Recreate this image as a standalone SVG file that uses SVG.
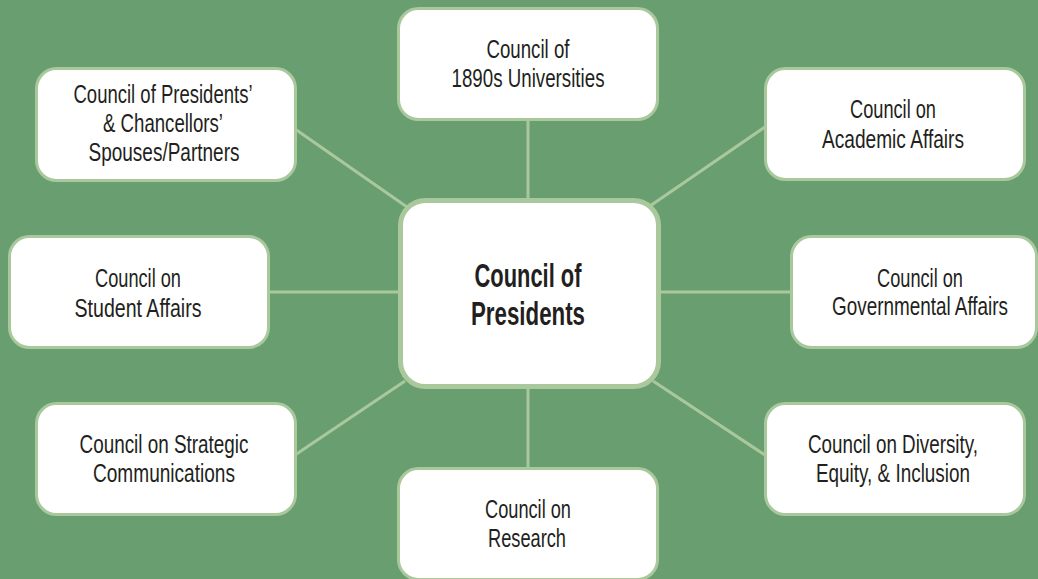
<svg xmlns="http://www.w3.org/2000/svg" width="1038" height="579" viewBox="0 0 1038 579">
<style>
.bg{fill:#699e71}
.box{fill:#ffffff;stroke:#a9c99c;stroke-width:3}
.main{fill:#ffffff;stroke:#a9c99c;stroke-width:5}
.t{font-family:"Liberation Sans",Arial,sans-serif;font-size:26px;fill:#231f20;text-anchor:middle}
.b{font-family:"Liberation Sans",Arial,sans-serif;font-size:34px;font-weight:bold;fill:#231f20;text-anchor:middle}
.c line{stroke:#a9c99c;stroke-width:3}
</style>
<rect class="bg" x="0" y="0" width="1038" height="579"/>
<g id="connectors" class="c">
<line x1="528" y1="118" x2="528" y2="200"/>
<line x1="528" y1="387" x2="528" y2="469"/>
<line x1="267" y1="292" x2="400" y2="292"/>
<line x1="659" y1="292" x2="792" y2="292"/>
<line x1="295" y1="129" x2="407" y2="207"/>
<line x1="765" y1="127" x2="650" y2="206"/>
<line x1="295" y1="455" x2="405" y2="381"/>
<line x1="765" y1="455" x2="653" y2="381"/>
</g>
<g id="node-center">
<rect class="main" x="400.5" y="200.5" width="258" height="186" rx="25"/>
<text class="b" x="528" y="287" textLength="107" lengthAdjust="spacingAndGlyphs">Council of</text>
<text class="b" x="528" y="325" textLength="114" lengthAdjust="spacingAndGlyphs">Presidents</text>
</g>
<g id="node-1890s">
<rect class="box" x="398.5" y="8.5" width="259" height="111" rx="20"/>
<text class="t" x="528" y="58" textLength="83" lengthAdjust="spacingAndGlyphs">Council of</text>
<text class="t" x="528" y="87" textLength="153" lengthAdjust="spacingAndGlyphs">1890s Universities</text>
</g>
<g id="node-spouses">
<rect class="box" x="36.5" y="68.5" width="259" height="112" rx="20"/>
<text class="t" x="163" y="103" textLength="179" lengthAdjust="spacingAndGlyphs">Council of Presidents’</text>
<text class="t" x="163" y="132" textLength="120" lengthAdjust="spacingAndGlyphs">&amp; Chancellors’</text>
<text class="t" x="164" y="161" textLength="151" lengthAdjust="spacingAndGlyphs">Spouses/Partners</text>
</g>
<g id="node-academic">
<rect class="box" x="765.5" y="68.5" width="259" height="111" rx="20"/>
<text class="t" x="893" y="118" textLength="86" lengthAdjust="spacingAndGlyphs">Council on</text>
<text class="t" x="893" y="148" textLength="142" lengthAdjust="spacingAndGlyphs">Academic Affairs</text>
</g>
<g id="node-student">
<rect class="box" x="9.5" y="236.5" width="259" height="111" rx="20"/>
<text class="t" x="138" y="287" textLength="86" lengthAdjust="spacingAndGlyphs">Council on</text>
<text class="t" x="138" y="317" textLength="127" lengthAdjust="spacingAndGlyphs">Student Affairs</text>
</g>
<g id="node-governmental">
<rect class="box" x="791.5" y="236.5" width="245" height="111" rx="20"/>
<text class="t" x="920" y="287" textLength="86" lengthAdjust="spacingAndGlyphs">Council on</text>
<text class="t" x="920" y="315" textLength="176" lengthAdjust="spacingAndGlyphs">Governmental Affairs</text>
</g>
<g id="node-strategic">
<rect class="box" x="36.5" y="403.5" width="259" height="111" rx="20"/>
<text class="t" x="164" y="453" textLength="169" lengthAdjust="spacingAndGlyphs">Council on Strategic</text>
<text class="t" x="164" y="482" textLength="142" lengthAdjust="spacingAndGlyphs">Communications</text>
</g>
<g id="node-diversity">
<rect class="box" x="765.5" y="403.5" width="259" height="111" rx="20"/>
<text class="t" x="893" y="453" textLength="170" lengthAdjust="spacingAndGlyphs">Council on Diversity,</text>
<text class="t" x="893" y="482" textLength="154" lengthAdjust="spacingAndGlyphs">Equity, &amp; Inclusion</text>
</g>
<g id="node-research">
<rect class="box" x="398.5" y="468.5" width="259" height="111" rx="20"/>
<text class="t" x="528" y="518" textLength="86" lengthAdjust="spacingAndGlyphs">Council on</text>
<text class="t" x="527" y="547" textLength="78" lengthAdjust="spacingAndGlyphs">Research</text>
</g>
</svg>
